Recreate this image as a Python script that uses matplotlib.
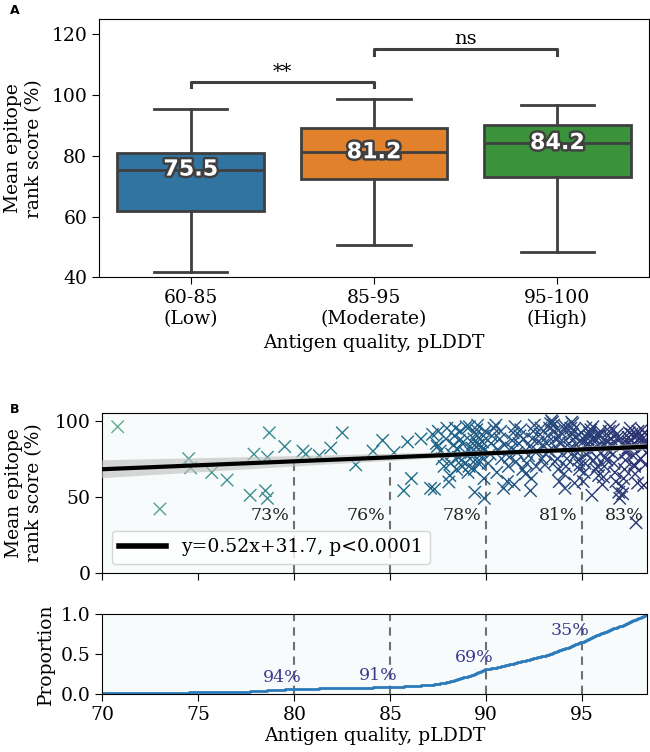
import numpy as np
import matplotlib
matplotlib.use("Agg")
import matplotlib.pyplot as plt
import matplotlib.patheffects as pe
import seaborn as sns

plt.rcParams["font.family"] = ["DejaVu Serif"]

# ---- panel A: box stats per antigen quality group
groups = ["60-85\n(Low)", "85-95\n(Moderate)", "95-100\n(High)"]
box_colors = ["#3274a1", "#e1812c", "#3a923a"]
whis_lo = [41.8, 50.5, 48.3]
q1 = [61.9, 72.4, 72.9]
medians = [75.5, 81.2, 84.2]
q3 = [81.1, 89.1, 90.3]
whis_hi = [95.5, 98.8, 96.9]
sig_pairs = [(0, 1), (1, 2)]
sig_labels = ["**", "ns"]
sig_heights = [102.6, 113.4]

# ---- panel B: per-antigen pLDDT and mean epitope rank score
plddt = [
    61.5, 64.8, 67.2,
    70.8, 73.0, 74.5, 74.6,
    75.7, 76.5, 77.9, 77.7, 78.5, 78.6, 78.6, 78.7, 79.5,
    80.45, 80.6, 81.3, 81.9, 82.5, 83.2, 84.1, 84.6,
    85.2, 85.7, 85.9, 86.1, 86.6,
    87.1, 87.3, 87.2, 87.4, 87.5, 87.6, 87.7, 87.8, 87.9, 87.95, 87.45,
    88.05, 88.1, 88.15, 88.2, 88.3, 88.35, 88.4, 88.45, 88.5, 88.55, 88.6, 88.65,
    88.7, 88.75, 88.8, 88.9, 88.95,
    89.4, 89.9, 89.05, 89.1, 89.15, 89.2, 89.25, 89.3, 89.35, 89.45, 89.5, 89.55,
    89.6, 89.65, 89.7, 89.75, 89.8, 89.85, 89.95, 89.12, 89.38, 89.62, 89.88, 89.58,
    90.9, 90.1, 90.2, 90.25, 90.3, 90.4, 90.5, 90.55, 90.6, 90.7, 90.75, 90.8, 90.95,
    91.1, 91.15, 91.2, 91.3, 91.35, 91.4, 91.5, 91.55, 91.6, 91.7, 91.75, 91.8,
    91.9, 91.45, 91.95,
    92.3, 92.05, 92.1, 92.2, 92.25, 92.4, 92.45, 92.5, 92.6, 92.65, 92.7, 92.8,
    92.85, 92.9, 92.35, 92.95,
    93.05, 93.1, 93.15, 93.2, 93.3, 93.35, 93.4, 93.45, 93.5, 93.55, 93.6, 93.65,
    93.7, 93.75, 93.8, 93.85, 93.9, 93.95, 93.25, 93.58, 93.78,
    94.1, 94.6, 94.05, 94.15, 94.2, 94.25, 94.3, 94.35, 94.4, 94.45, 94.5, 94.55,
    94.65, 94.7, 94.75, 94.8, 94.85, 94.9, 94.95, 94.12, 94.38, 94.62, 94.88, 94.48,
    95.5, 95.05, 95.1, 95.15, 95.2, 95.25, 95.3, 95.35, 95.4, 95.45, 95.55, 95.6,
    95.65, 95.7, 95.75, 95.8, 95.85, 95.9, 95.95, 95.12, 95.28, 95.42, 95.58, 95.72,
    95.88, 95.38, 95.62, 95.18,
    96.9, 96.95, 96.05, 96.1, 96.15, 96.2, 96.25, 96.3, 96.35, 96.4, 96.45, 96.5,
    96.55, 96.6, 96.65, 96.7, 96.75, 96.8, 96.85, 96.12, 96.38, 96.62, 96.88, 96.28,
    97.8, 97.1, 97.05, 97.15, 97.2, 97.25, 97.3, 97.35, 97.4, 97.45, 97.5, 97.55,
    97.6, 97.65, 97.7, 97.75, 97.85, 97.9, 97.95, 97.12, 97.28, 97.42, 97.58, 97.72,
    97.88, 97.38,
    98.2, 98.05, 98.1, 98.15, 98.25, 98.3, 98.35, 98.08, 98.18, 98.28, 98.12, 98.22,
]
score = [
    58, 72, 80,
    96, 42, 75, 69,
    66, 61, 78, 51, 54, 49, 76, 92, 83,
    80, 78, 77, 82, 92, 71, 80, 87,
    79, 54, 86, 62, 88,
    55.6, 55, 91, 85, 93, 80, 75, 70, 88, 95, 83,
    59.7, 64, 72, 78, 84, 90, 95, 68, 81, 76, 87, 93,
    74, 70, 86, 79, 96,
    53, 49, 66, 70, 75, 79, 82, 85, 88, 91, 94, 97,
    72, 77, 80, 83, 86, 90, 93, 96, 68, 74, 62, 84,
    55.6, 72, 78, 85, 90, 95, 97, 66, 81, 88, 93, 75, 84,
    60, 70, 76, 82, 87, 92, 96, 73, 79, 85, 90, 94,
    68, 58, 88,
    54, 65, 72, 77, 83, 88, 93, 97, 70, 80, 86, 91,
    95, 75, 62, 84,
    71, 78, 85, 90, 95, 98, 100, 99, 97, 93, 88, 82,
    75, 68, 60, 86, 92, 96, 80, 73, 89,
    55.6, 59, 65, 70, 75, 80, 85, 90, 95, 99, 98, 94,
    89, 84, 79, 74, 68, 87, 92, 96, 82, 77, 71, 91,
    51, 60, 66, 72, 78, 84, 88, 90, 92, 94, 96, 89,
    86, 82, 76, 70, 64, 91, 93, 87, 85, 80, 74, 68,
    90, 92, 88, 95,
    53, 49, 58, 63, 70, 76, 82, 86, 90, 93, 96, 88,
    84, 78, 72, 66, 60, 91, 89, 85, 80, 94, 87, 74,
    33, 52, 57, 62, 68, 74, 80, 85, 89, 92, 95, 87,
    83, 77, 71, 65, 90, 93, 88, 84, 79, 86, 91, 70,
    59, 82,
    57.5, 75, 82, 88, 92, 85, 79, 90, 86, 71, 94, 83,
]
slope, intercept = 0.52, 31.7
thresholds = [80, 85, 90, 95]

LINE = "#3f3f3f"
PCT_COLOR = "#3b3b8e"

fig = plt.figure(figsize=(6.5, 7.52), dpi=100)

# ===================== A =====================
axA = fig.add_axes([99 / 650, 1 - 277.3 / 752, 550 / 650, 258 / 752])
stats = []
for i in range(len(groups)):
    stats.append(dict(med=medians[i], q1=q1[i], q3=q3[i],
                      whislo=whis_lo[i], whishi=whis_hi[i], label=groups[i]))
bp = axA.bxp(stats, positions=range(len(groups)), widths=0.8, patch_artist=True,
             showfliers=False,
             boxprops=dict(edgecolor=LINE, linewidth=2),
             whiskerprops=dict(color=LINE, linewidth=2),
             capprops=dict(color=LINE, linewidth=2),
             medianprops=dict(color=LINE, linewidth=2))
for patch, c in zip(bp["boxes"], box_colors):
    patch.set_facecolor(c)
for i, m in enumerate(medians):
    axA.text(i, m, f"{m:.1f}", ha="center", va="center", fontsize=16,
             fontweight="bold", family="DejaVu Sans", color="white",
             path_effects=[pe.withStroke(linewidth=3.5, foreground=LINE)])
for (a, b), lab, h in zip(sig_pairs, sig_labels, sig_heights):
    axA.plot([a, a, b, b], [h, h + 1.8, h + 1.8, h], color=LINE, lw=2.2)
    axA.text((a + b) / 2, h + 2.2, lab, ha="center", va="bottom", fontsize=14)
axA.set_xlim(-0.5, 2.5)
axA.set_ylim(40, 125)
axA.set_yticks([40, 60, 80, 100, 120])
axA.tick_params(labelsize=13.5, length=5)
axA.set_xticks(range(len(groups)))
axA.set_xticklabels(groups)
axA.set_ylabel("Mean epitope\nrank score (%)", fontsize=13.5, labelpad=6)
axA.set_xlabel("Antigen quality, pLDDT", fontsize=13.5, labelpad=4)
fig.text(10 / 650, 1 - 10 / 752, "A", family="DejaVu Sans", fontweight="bold",
         fontsize=9, ha="left", va="center")

# ===================== B scatter =====================
x = np.array(plddt)
y = np.array(score)
xlim = (70, 98.37)
axS = fig.add_axes([102.3 / 650, 1 - 573 / 752, 544.7 / 650, 160 / 752])
axS.set_facecolor("#f8fbfb")
cmap = sns.color_palette("crest", as_cmap=True)
axS.scatter(x, y, c=x, cmap=cmap, vmin=x.min(), vmax=x.max(), marker="x",
            s=80, linewidths=1.0, zorder=2)
xs = np.linspace(x.min(), x.max(), 200)
fit = slope * xs + intercept
resid = y - (slope * x + intercept)
s = np.sqrt(np.sum(resid ** 2) / (len(x) - 2))
se = s * np.sqrt(1 / len(x) + (xs - x.mean()) ** 2 / np.sum((x - x.mean()) ** 2))
axS.fill_between(xs, fit - 1.97 * se, fit + 1.97 * se, color="#bdbdbd",
                 alpha=0.6, lw=0, zorder=3)
axS.plot(xs, fit, color="black", lw=3, zorder=4,
         label=f"y={slope:.2f}x+{intercept:.1f}, p<0.0001")
label_x = thresholds + [x.max()]
for t in label_x:
    v = slope * t + intercept
    if t in thresholds:
        axS.vlines(t, 0, v, colors="#707070", linestyles=(0, (4, 3)), lw=1.5, zorder=1)
        tx = t - 0.25
    else:
        tx = t - 0.15
    axS.text(tx, 37.5, f"{int(np.round(v - 1e-9))}%", ha="right", va="center",
             fontsize=12.5, color="#222222", zorder=5)
leg = axS.legend(loc="lower left", fontsize=13.5, handlelength=2.5,
                 framealpha=0.8, fancybox=True)
leg.get_lines()[0].set_linewidth(4)
axS.set_xlim(*xlim)
axS.set_ylim(0, 105)
axS.set_yticks([0, 50, 100])
axS.set_xticks([70, 75, 80, 85, 90, 95])
axS.tick_params(labelsize=13.5, length=5, labelbottom=False)
axS.set_ylabel("Mean epitope\nrank score (%)", fontsize=13.5, labelpad=8)
fig.text(10 / 650, 1 - 409 / 752, "B", family="DejaVu Sans", fontweight="bold",
         fontsize=9, ha="left", va="center")

# ===================== B proportion =====================
axP = fig.add_axes([102.3 / 650, 1 - 694.3 / 752, 544.7 / 650, 80 / 752])
axP.set_facecolor("#f8fbfb")
xsort = np.sort(x)
cdf = np.arange(1, len(xsort) + 1) / len(xsort)
axP.step(xsort, cdf, where="post", color="#2b7bba", lw=2)
for t in thresholds:
    axP.axvline(t, color="#707070", ls=(0, (4, 3)), lw=1.5, zorder=1)
    below = np.mean(x < t)
    axP.text(t - 0.64, below + 0.04, f"{int(np.round(100 * (1 - below)))}%",
             ha="center", va="bottom", fontsize=12.5, color=PCT_COLOR)
axP.set_xlim(*xlim)
axP.set_ylim(0, 1.0)
axP.set_yticks([0, 0.5, 1.0])
axP.set_yticklabels(["0.0", "0.5", "1.0"])
axP.set_xticks([70, 75, 80, 85, 90, 95])
axP.tick_params(labelsize=13.5, length=5)
axP.set_ylabel("Proportion", fontsize=13.5)
axP.set_xlabel("Antigen quality, pLDDT", fontsize=13.5, labelpad=2)

fig.savefig("out.png", dpi=100)
